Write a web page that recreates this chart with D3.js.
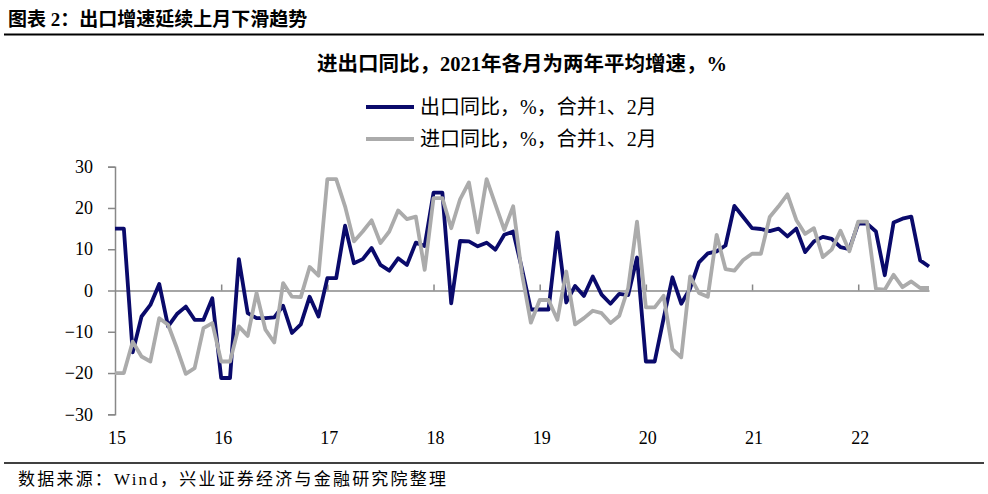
<!DOCTYPE html>
<html>
<head>
<meta charset="utf-8">
<script src="https://cdn.jsdelivr.net/npm/d3@7"></script>
<style>
  body { margin: 0; background: #fff; }
  text { font-family: "Liberation Serif", "Noto Sans CJK SC", serif; fill: #000; }
</style>
</head>
<body>
<div id="wrapper"></div>
<script>
const yearLabels = ['15', '16', '17', '18', '19', '20', '21', '22'];
const yTicks = [-30, -20, -10, 0, 10, 20, 30];

// 2015-01 .. 2022-09, monthly, Jan/Feb merged
const exportsYoY = [
    15, 15, -15, -6.3, -3.5, 1.6, -8.7, -5.7, -3.9, -7.1, -7.1, -1.9,
    -21.2, -21.2, 7.6, -5.5, -6.7, -6.7, -6.5, -3.7, -10.3, -8.2, -1.5, -6.3,
    3.0, 3.0, 15.7, 6.6, 7.6, 10.3, 6.2, 4.8, 7.8, 6.2, 11.6, 10.8,
    23.7, 23.7, -3.1, 12.0, 11.9, 10.7, 11.6, 9.9, 13.5, 14.3, 5.2, -4.6,
    -4.6, -4.6, 14.1, -2.9, 1.1, -1.3, 3.4, -1.0, -3.2, -0.8, -1.1, 8.0,
    -17.2, -17.2, -6.8, 3.2, -3.2, 0.5, 6.8, 9.0, 9.5, 10.9, 20.5, 17.8,
    15.1, 14.9, 14.4, 15.0, 13.1, 15.0, 9.3, 11.9, 13.0, 12.5, 10.5, 10.0,
    16.2, 16.2, 14.3, 3.7, 16.5, 17.4, 17.9, 7.3, 5.8
];
const importsYoY = [
    -20, -20, -12.4, -16, -17.2, -6.7, -8.3, -14, -20.2, -18.8, -9.1, -7.9,
    -17.2, -17.2, -8.7, -11, -0.6, -9.5, -12.6, 1.8, -1.5, -1.6, 5.7, 3.6,
    27, 27, 20.4, 11.9, 14.3, 17, 11.5, 14.3, 19.4, 17.3, 17.9, 5.0,
    22.4, 22.4, 15.1, 22.1, 26.2, 14.1, 27, 20.8, 14.7, 20.4, 4.0, -7.8,
    -2.3, -2.3, -7.1, 4.6, -8.2, -6.7, -4.9, -5.5, -7.9, -6.1, 0.6, 16.7,
    -4.1, -4.1, -1.3, -14.2, -16.2, 3.4, -0.6, -1.5, 13.5, 5.2, 4.8, 7.4,
    8.9, 8.9, 17.8, 20.4, 23.3, 17.1, 13.7, 15.1, 8.1, 9.9, 14.5, 9.5,
    16.7, 16.7, 0.4, 0.2, 3.8, 0.8, 2.2, 0.6, 0.6
];
const seriesNames = ['出口同比，%，合并1、2月', '进口同比，%，合并1、2月'];
const seriesColors = ['#0a0a6b', '#ababab'];

const width = 988, height = 494;

const svg = d3.select('#wrapper').append('svg')
    .attr('width', width)
    .attr('height', height);

svg.append('rect').attr('width', width).attr('height', height).attr('fill', '#fff');

// header
svg.append('text')
    .attr('x', 8).attr('y', 26)
    .style('font-size', '19px').style('font-weight', 'bold')
    .text('图表 2：出口增速延续上月下滑趋势');

svg.append('line')
    .attr('x1', 4).attr('x2', 984).attr('y1', 34.5).attr('y2', 34.5)
    .attr('stroke', '#000').attr('stroke-width', 2);

svg.append('text')
    .attr('x', 522).attr('y', 71)
    .attr('text-anchor', 'middle')
    .style('font-size', '20.5px').style('font-weight', 'bold')
    .text('进出口同比，2021年各月为两年平均增速，%');

// legend
const legend = svg.append('g');
seriesNames.forEach((name, i) => {
    const ly = 107 + i * 32;
    legend.append('line')
        .attr('x1', 366).attr('x2', 414).attr('y1', ly).attr('y2', ly)
        .attr('stroke', seriesColors[i]).attr('stroke-width', 4);
    legend.append('text')
        .attr('x', 420).attr('y', ly + 7)
        .style('font-size', '20px')
        .text(name);
});

// scales
const n = exportsYoY.length;
const xScale = d3.scaleLinear()
    .domain([0, n - 1])
    .range([115, 929]);

const yScale = d3.scaleLinear()
    .domain([-30, 30])
    .range([414.3, 166.7]);

// y axis
const yAxis = svg.append('g')
    .attr('transform', `translate(${xScale(0)},0)`)
    .call(d3.axisLeft(yScale).tickValues(yTicks).tickSize(7).tickSizeOuter(7).tickPadding(15));
yAxis.select('.domain').attr('stroke', '#888').attr('stroke-width', 1.5);
yAxis.selectAll('.tick line').attr('stroke', '#888').attr('stroke-width', 1.5);
yAxis.selectAll('.tick text')
    .style('font-size', '18px')
    .style('font-family', '"Liberation Serif", serif')
    .attr('fill', '#000');

// x axis on zero line, ticks pointing up
const yearTicks = yearLabels.map((d, i) => i * 12);
const xAxis = svg.append('g')
    .attr('transform', `translate(0,${yScale(0)})`)
    .call(d3.axisTop(xScale).tickValues(yearTicks.slice(1)).tickSize(6).tickSizeOuter(0).tickFormat(''));
xAxis.select('.domain').attr('stroke', '#888').attr('stroke-width', 1.5);
xAxis.selectAll('.tick line').attr('stroke', '#888').attr('stroke-width', 1.5);

// year labels at bottom
svg.append('g').selectAll('text')
    .data(yearLabels)
    .join('text')
    .attr('x', (d, i) => xScale(i * 12) + 2)
    .attr('y', 444)
    .attr('text-anchor', 'middle')
    .style('font-size', '18px')
    .text(d => d);

// lines, import drawn last so it sits on top
const lineGenerator = d3.line()
    .x((d, i) => xScale(i))
    .y(d => yScale(d));

[exportsYoY, importsYoY].forEach((values, i) => {
    svg.append('path')
        .attr('d', lineGenerator(values))
        .attr('fill', 'none')
        .attr('stroke', seriesColors[i])
        .attr('stroke-width', 3.8)
        .attr('stroke-linejoin', 'round');
});

// footer
svg.append('line')
    .attr('x1', 4).attr('x2', 984).attr('y1', 463).attr('y2', 463)
    .attr('stroke', '#000').attr('stroke-width', 1.5);

svg.append('text')
    .attr('x', 18).attr('y', 485)
    .attr('textLength', 428)
    .attr('lengthAdjust', 'spacing')
    .style('font-size', '17px')
    .text('数据来源：Wind，兴业证券经济与金融研究院整理');
</script>
</body>
</html>
